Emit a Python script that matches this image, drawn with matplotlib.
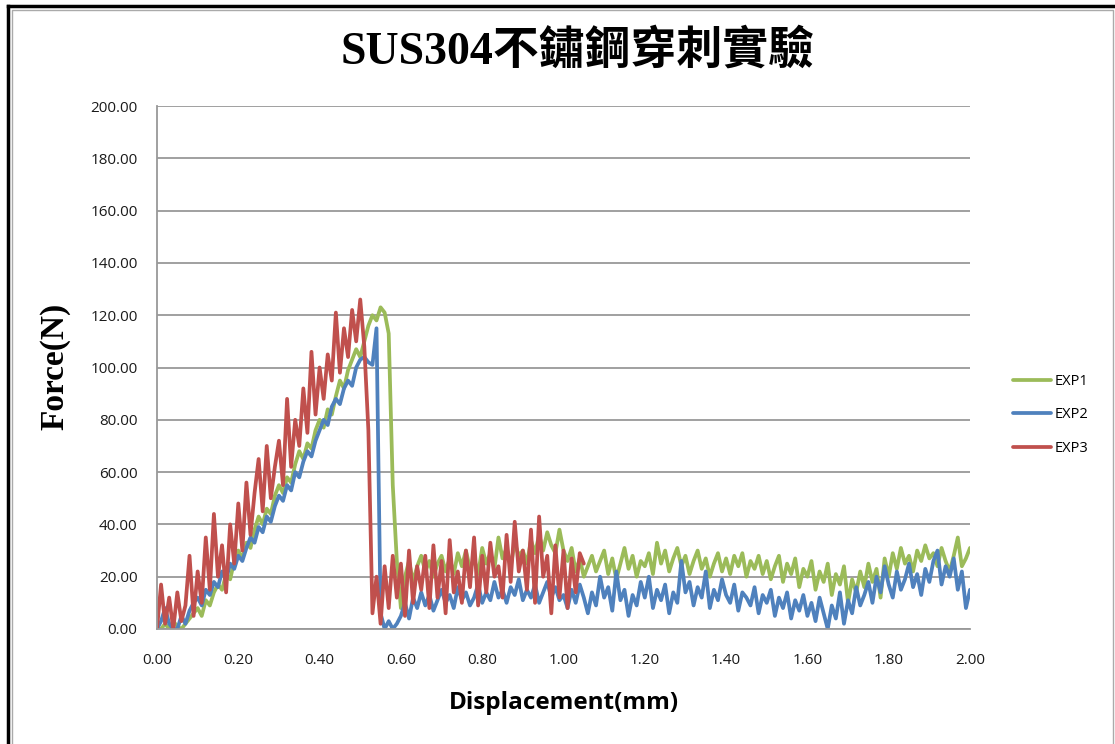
import numpy as np
import matplotlib
matplotlib.use("Agg")
import matplotlib.pyplot as plt
from matplotlib.lines import Line2D

# displacement grid (mm), 0.01 step
disp = np.round(np.arange(201) * 0.01, 2)

exp1 = [0, 0, 2, 0, 3, 1, 0, 2, 4, 6,
        8, 5, 11, 9, 14, 17, 15, 21, 19, 26,
        30, 27, 33, 31, 38, 43, 40, 46, 44, 51,
        55, 52, 58, 56, 63, 68, 65, 71, 69, 76,
        80, 77, 84, 82, 89, 95, 92, 99, 103, 107,
        104, 110, 116, 120, 118, 123, 121, 113, 55, 26,
        8, 20, 26, 18, 24, 28, 22, 26, 20, 25,
        28, 22, 27, 21, 29, 24, 30, 23, 27, 21,
        31, 25, 29, 23, 35, 27, 31, 24, 33, 28,
        30, 25, 34, 29, 36, 30, 37, 32, 29, 38,
        30, 26, 31, 22, 27, 20, 24, 28, 22, 26,
        30, 21, 27, 19, 25, 31, 23, 28, 20, 26,
        24, 29, 21, 33, 25, 30, 22, 27, 31, 24,
        28, 21, 26, 30, 23, 27, 20, 25, 29, 22,
        27, 21, 28, 24, 29, 20, 26, 23, 28, 21,
        26, 19, 24, 28, 18, 25, 21, 27, 16, 23,
        20, 26, 15, 22, 18, 25, 13, 21, 17, 24,
        10, 19, 14, 22, 16, 25, 18, 23, 12, 27,
        20, 29, 23, 31, 25, 28, 22, 30, 26, 32,
        27, 29, 24, 31, 26, 22, 28, 35, 24, 27,
        31]

exp2 = [0, 3, 8, 2, 0, 0, 5, 2, 7, 10,
        12, 9, 15, 13, 18, 16, 22, 19, 25, 23,
        28, 26, 31, 35, 33, 39, 37, 43, 41, 47,
        51, 49, 55, 53, 60, 58, 64, 68, 66, 72,
        76, 80, 78, 85, 88, 86, 92, 95, 93, 100,
        103, 104, 102, 101, 115, 6, 0, 3, 0, 2,
        5, 10, 4, 12, 8, 14, 9, 13, 7, 11,
        15, 10, 13, 8, 16, 11, 14, 9, 12, 17,
        10, 14, 11, 18, 12, 15, 10, 16, 13, 19,
        11, 15, 12, 17, 10, 14, 18, 12, 16, 11,
        13, 8, 15, 10, 17, 12, 6, 14, 9, 20,
        12, 16, 7, 22, 11, 15, 5, 13, 9, 18,
        12, 20, 8, 15, 11, 17, 6, 14, 10, 26,
        14, 18, 9, 16, 12, 22, 8, 15, 11, 19,
        13, 10, 17, 7, 14, 12, 9, 16, 6, 13,
        10, 15, 5, 12, 8, 14, 4, 11, 7, 13,
        5, 10, 3, 12, 6, 0, 9, 4, 14, 2,
        11, 6, 16, 9, 13, 18, 10, 20, 14, 24,
        17, 12, 22, 15, 19, 25, 16, 21, 13, 23,
        18, 26, 30, 17, 24, 20, 27, 15, 22, 8,
        15]

exp3 = [0, 17, 2, 12, 0, 14, 3, 9, 28, 5,
        22, 10, 35, 15, 44, 20, 32, 14, 40, 25,
        48, 30, 56, 36, 52, 65, 45, 70, 50, 62,
        72, 55, 88, 62, 80, 70, 92, 75, 106, 82,
        100, 88, 105, 95, 121, 98, 115, 104, 122, 110,
        126, 108, 76, 6, 20, 2, 24, 8, 28, 12,
        25, 5, 30, 10, 24, 15, 28, 8, 32, 12,
        26, 6, 34, 14, 22, 10, 30, 16, 35, 9,
        28, 14, 33, 20, 24, 12, 36, 18, 41, 22,
        30, 15, 38, 10, 43, 20, 28, 6, 32, 12,
        30, 8, 27, 14, 29, 25]

series_names = ["EXP1", "EXP2", "EXP3"]
series_colors = ["#9BBB59", "#4F81BD", "#C0504D"]

yticks = np.arange(0, 201, 20)
xticks = np.round(np.arange(0, 2.01, 0.2), 2)

fig = plt.figure(figsize=(11.15, 7.44), dpi=100)
ax = fig.add_axes([157/1115, 1 - 629/744, (970-157)/1115, (629-106)/744])

for vals, name, c in zip([exp1, exp2, exp3], series_names, series_colors):
    ax.plot(disp[:len(vals)], vals, color=c, lw=2.7, label=name,
            solid_joinstyle='round', solid_capstyle='round')

ax.set_xlim(0, 2)
ax.set_ylim(0, 200)
ax.set_xticks(xticks)
ax.set_yticks(yticks)
ax.set_xticklabels(["%.2f" % v for v in xticks])
ax.set_yticklabels(["%.2f" % v for v in yticks])
for lab in ax.get_xticklabels() + ax.get_yticklabels():
    lab.set_fontfamily("Open Sans")
    lab.set_fontsize(11)
    lab.set_color("#1a1a1a")
ax.tick_params(axis='x', length=0, pad=17)
ax.tick_params(axis='y', length=0, pad=14)

ax.grid(axis='y', color='#999999', lw=1.3)
ax.set_axisbelow(True)
for s in ['top', 'right']:
    ax.spines[s].set_visible(False)
for s in ['left', 'bottom']:
    ax.spines[s].set_color('#999999')
    ax.spines[s].set_linewidth(1.3)

fig.text(55/1115, 1 - 366/744, "Force(N)", rotation=90, ha='center', va='center',
         family="Liberation Serif", weight='bold', fontsize=24)
fig.text(564/1115, 1 - 703/744, "Displacement(mm)", ha='center', va='center',
         family="Open Sans", weight='bold', fontsize=17.5)
fig.text(578/1115, 1 - 52/744, "SUS304不鏽鋼穿刺實驗", ha='center', va='center',
         family=["Liberation Serif", "Noto Sans CJK TC"], weight='bold', fontsize=33)

fig.legend(loc='center left', bbox_to_anchor=(1013/1115, 1 - 415/744), frameon=False,
           prop={'family': 'Open Sans', 'size': 10.5}, handlelength=2.6,
           handletextpad=0.25, labelspacing=1.25, borderpad=0, borderaxespad=0)

# outer frame of the original figure
fig.add_artist(Line2D([8/1115, 8/1115], [0, 1 - 6/744], transform=fig.transFigure,
                      color='black', lw=2.5))
fig.add_artist(Line2D([8/1115, 1], [1 - 6/744, 1 - 6/744], transform=fig.transFigure,
                      color='black', lw=2.5))
fig.add_artist(Line2D([11.5/1115, 11.5/1115, 1113/1115, 1113/1115],
                      [0, 1 - 9.5/744, 1 - 9.5/744, 0], transform=fig.transFigure,
                      color='#aaaaaa', lw=1))

fig.savefig("out.png", dpi=100)
